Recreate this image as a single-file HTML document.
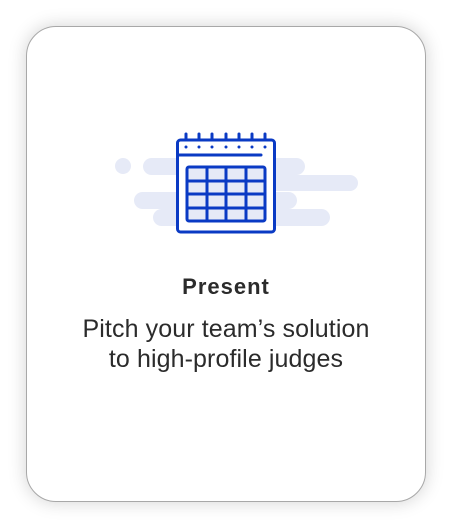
<!DOCTYPE html>
<html><head><style>
html,body{margin:0;padding:0;background:#fff;width:452px;height:528px;overflow:hidden}
.card{position:absolute;left:26px;top:26px;width:398px;height:474px;border:1px solid #a8a8a8;border-radius:30px;background:#fff;box-shadow:0 0 18px rgba(0,0,0,0.18)}
.t{position:absolute;left:0;width:452px;text-align:center;font-family:"Liberation Sans",sans-serif;color:#2b2b2b}
</style></head><body>
<div class="card"></div>
<svg style="position:absolute;left:0;top:0" width="452" height="528">
<g fill="#e6eaf7">
<circle cx="123" cy="166" r="8"/>
<rect x="143" y="158" width="162" height="17" rx="8.5"/>
<rect x="230" y="175" width="128" height="16" rx="8"/>
<rect x="134" y="192" width="163" height="17" rx="8.5"/>
<rect x="153" y="209" width="177" height="17" rx="8.5"/>
</g>
<g stroke="#0a3ac4" stroke-width="3" fill="none" stroke-linecap="round">
<rect x="177.5" y="140" width="97" height="92" rx="3" fill="#fff"/>
<path d="M186 134v6M199 134v6M212 134v6M226 134v6M239 134v6M252 134v6M265 134v6"/>
<path d="M179 155H261"/>
<rect x="187" y="167" width="78" height="54" rx="2" fill="#e6eaf7"/>
<path d="M207 167v54M226 167v54M246 167v54M187 181h78M187 194h78M187 208h78"/>
</g>
<g fill="#0a3ac4">
<circle cx="186" cy="147" r="1.5"/><circle cx="199" cy="147" r="1.5"/><circle cx="212" cy="147" r="1.5"/><circle cx="226" cy="147" r="1.5"/><circle cx="239" cy="147" r="1.5"/><circle cx="252" cy="147" r="1.5"/><circle cx="265" cy="147" r="1.5"/>
</g>
</svg>
<div class="t" style="top:275px;font-size:22px;line-height:24px;font-weight:bold;letter-spacing:1px">Present</div>
<div class="t" style="top:314px;font-size:25px;line-height:30px;letter-spacing:0.1px">Pitch your team’s solution<br>to high-profile judges</div>
</body></html>
